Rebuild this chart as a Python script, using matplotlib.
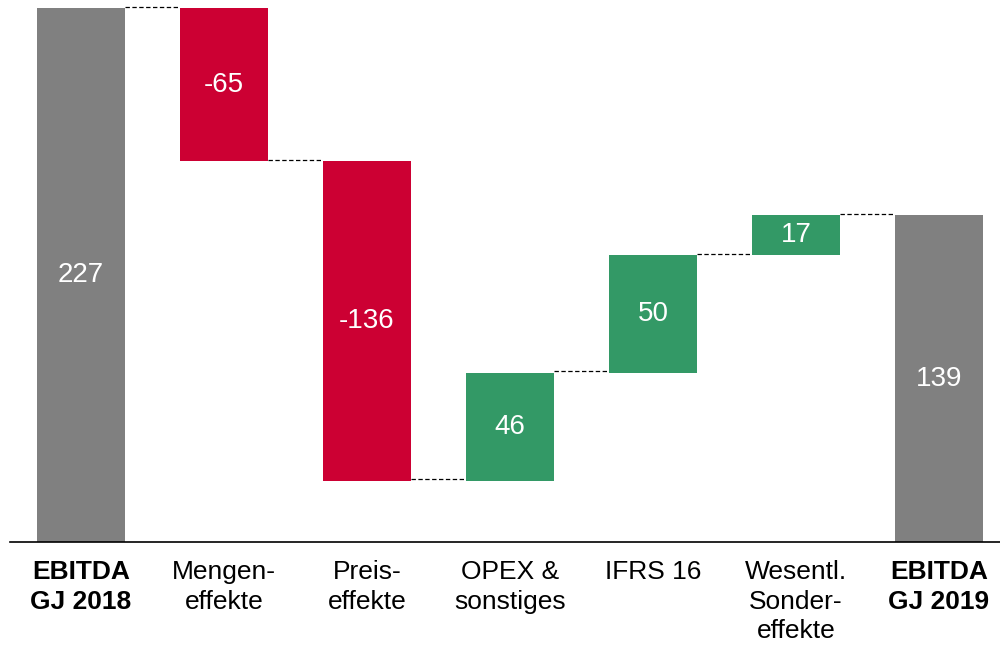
import numpy as np
import matplotlib.pyplot as plt

plt.rcParams['font.family'] = ['Liberation Sans', 'DejaVu Sans']

# Data
categories = ['EBITDA\nGJ 2018', 'Mengen-\neffekte', 'Preis-\neffekte', 'OPEX &\nsonstiges',
              'IFRS 16', 'Wesentl.\nSonder-\neffekte', 'EBITDA\nGJ 2019']
values = [227, -65, -136, 46, 50, 17, 139]
is_total = [True, False, False, False, False, False, True]

grey = '#808080'
red = '#CC0033'
green = '#339966'

fig = plt.figure(figsize=(10, 6.46), dpi=100)
ax = fig.add_axes([0.01, 0.161, 0.99, 0.826])

x = np.arange(len(values))
width = 0.615

bottoms = []
heights = []
colors = []
level = 0
for v, tot in zip(values, is_total):
    if tot:
        bottoms.append(0)
        heights.append(v)
        colors.append(grey)
        level = v
    else:
        if v < 0:
            bottoms.append(level + v)
            colors.append(red)
        else:
            bottoms.append(level)
            colors.append(green)
        heights.append(abs(v))
        level = level + v

ax.bar(x, heights, bottom=bottoms, width=width, color=colors, clip_on=False)

# Value labels
for xi, b, h, v in zip(x, bottoms, heights, values):
    ax.text(xi, b + h / 2, str(v), ha='center', va='center', color='white', fontsize=20)

# Connector lines
level = 0
for i, (v, tot) in enumerate(zip(values, is_total)):
    level = v if tot else level + v
    if i < len(values) - 1:
        ax.plot([x[i] + width / 2, x[i + 1] - width / 2], [level + 0.6, level + 0.6],
                color='black', linestyle=(0, (3.5, 2)), linewidth=0.9, clip_on=False)

ax.set_xlim(-0.4965, 6.4266)
ax.set_ylim(0, 227)

ax.set_xticks(x)
ax.set_xticklabels(categories, fontsize=19, va='top', linespacing=1.3)
for lbl, tot in zip(ax.get_xticklabels(), is_total):
    if tot:
        lbl.set_fontweight('bold')
ax.tick_params(axis='x', length=0, pad=13)
ax.set_yticks([])

for s in ['top', 'right', 'left']:
    ax.spines[s].set_visible(False)
ax.spines['bottom'].set_linewidth(1.2)

plt.savefig('out.png', dpi=100)
